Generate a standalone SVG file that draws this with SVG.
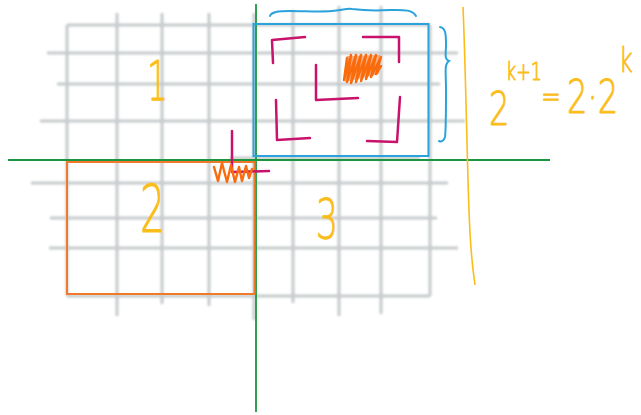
<svg xmlns="http://www.w3.org/2000/svg" width="641" height="415" viewBox="0 0 641 415">
<defs>
<filter id="blur" x="-5%" y="-5%" width="110%" height="110%"><feGaussianBlur stdDeviation="0.9"/></filter>
</defs>
<style>
.grid{stroke:#aeb4b7;stroke-width:3;fill:none;opacity:0.7}
.mag{stroke:#c8126c;stroke-width:2.5;fill:none;stroke-linecap:round;stroke-linejoin:round}
.num{font-family:"DejaVu Sans","Liberation Sans",sans-serif;fill:#fbbd1a;font-weight:300;stroke:#fbbd1a;stroke-width:1;stroke-linejoin:round}
</style>
<rect width="641" height="415" fill="#ffffff"/>
<g id="grid" class="grid" filter="url(#blur)">
<line x1="67" y1="25" x2="430" y2="25"/>
<line x1="47" y1="53" x2="458" y2="53"/>
<line x1="57" y1="84" x2="440" y2="84"/>
<line x1="40" y1="121" x2="465" y2="121"/>
<line x1="230" y1="158" x2="420" y2="158"/>
<line x1="31" y1="183" x2="448" y2="183"/>
<line x1="50" y1="218" x2="437" y2="218"/>
<line x1="49" y1="248" x2="458" y2="248"/>
<line x1="67" y1="296" x2="430" y2="296"/>
<line x1="67" y1="25" x2="67" y2="296"/>
<line x1="117" y1="13" x2="117" y2="316"/>
<line x1="162" y1="13" x2="162" y2="304"/>
<line x1="209" y1="13" x2="209" y2="306"/>
<line x1="254" y1="13" x2="254" y2="320"/>
<line x1="293" y1="10" x2="293" y2="303"/>
<line x1="339" y1="6" x2="339" y2="316"/>
<line x1="381" y1="6" x2="381" y2="314"/>
<line x1="430" y1="25" x2="430" y2="296"/>
</g>
<g id="axes" stroke="#1b9640" stroke-width="1.8" fill="none">
<line x1="8" y1="160" x2="550" y2="160"/>
<line x1="256" y1="4" x2="256" y2="412"/>
</g>
<g id="blue-box" stroke="#2aa3dc" stroke-width="2" fill="none" stroke-linecap="round">
<rect x="253.5" y="24" width="175" height="132"/>
<path d="M270,16 C271,12 278,11 290,11 C305,11 320,12 332,11 C342,10 348,8 352,9 C360,10 372,11 390,10 C402,10 412,9 416,16"/>
<path d="M440,27 C446,28 446,35 446,45 C446,54 444,59 449,61 C444,64 446,72 446,90 C446,110 446,130 445,137 C444,141 441,142 439,141"/>
</g>
<g id="orange-box" stroke="#f07a2a" stroke-width="2" fill="none">
<rect x="67" y="162" width="187.5" height="132"/>
</g>
<g id="brackets" class="mag">
<path d="M273,63 L272,40 L305,37"/>
<path d="M363,37 L399,37 L399,62"/>
<path d="M276,100 L277,140 L310,138"/>
<path d="M400,97 L397,142 L367,141"/>
<path d="M316,65 L316,100 L358,98"/>
<path d="M232,131 L232,172 M233,172 L269,171"/>
</g>
<g id="scribbles" stroke="#f96b0c" stroke-width="2.4" fill="none" stroke-linecap="round" stroke-linejoin="round">
<polygon points="347,56 380,55 379,74 345,82" fill="#f96b0c" fill-opacity="0.55" stroke="none"/>
<path d="M347,58 L344,80 L351,55 L347,82 L356,55 L351,83 L361,55 L356,82 L366,55 L361,81 L371,55 L366,79 L376,55 L371,77 L381,57 L376,74 L381,66"/>
<path d="M214,167 L218,181 L222,163 L227,182 L231,165 L235,182 L239,167 L242,181 L246,166 L249,178 L252,169"/>
</g>
<g id="labels">
<text class="num" x="147" y="100" font-size="56" textLength="21" lengthAdjust="spacingAndGlyphs">1</text>
<text class="num" x="140" y="232" font-size="66" textLength="25" lengthAdjust="spacingAndGlyphs">2</text>
<text class="num" x="316" y="238" font-size="56" textLength="22" lengthAdjust="spacingAndGlyphs">3</text>
</g>
<g id="formula">
<text class="num" transform="scale(0.7,1)" font-size="46"><tspan x="698.6" y="125">2</tspan><tspan x="722.9" y="80" font-size="25">k+1</tspan><tspan x="772.9" y="108" font-size="34">=</tspan><tspan x="810" y="113">2·2</tspan><tspan x="884.3" y="72" font-size="34">k</tspan></text>
</g>
<g id="divider" stroke="#fbbd1a" stroke-width="1.6" fill="none">
<path d="M463,7 C466,80 467,160 469,210 C470,240 472,265 475,285"/>
</g>
</svg>
